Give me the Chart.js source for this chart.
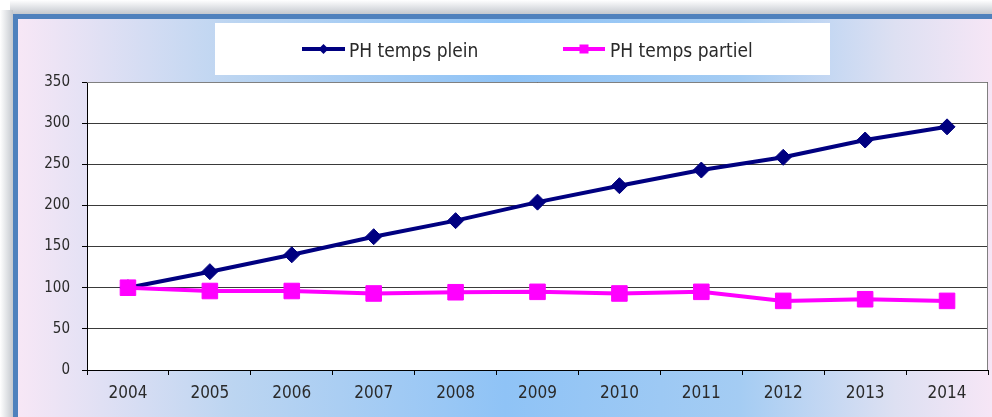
<!DOCTYPE html>
<html><head><meta charset="utf-8">
<script src="https://cdn.jsdelivr.net/npm/chart.js@4.4.0/dist/chart.umd.min.js"></script>
<style>html,body{margin:0;padding:0;background:#fff;overflow:hidden}#wrap{width:992px;height:417px;position:relative}</style>
</head><body><div id="wrap"><canvas id="c" width="992" height="417"></canvas></div>
<script>
const years = ['2004','2005','2006','2007','2008','2009','2010','2011','2012','2013','2014'];
const pleinValues = [100, 119.5, 140, 162, 181.5, 204, 224, 243, 258.5, 279.5, 295.5];
const partielValues = [100, 96, 96, 93, 94.5, 95, 93, 95, 84, 86, 84];
const seriesNames = ['PH temps plein', 'PH temps partiel'];
const yMin = 0, yMax = 350, yStep = 50;

const FONT = '"DejaVu Sans Condensed", "DejaVu Sans", sans-serif';

const bgPlugin = {
  id: 'bg',
  beforeDraw(chart) {
    const ctx = chart.ctx, W = chart.width, H = chart.height;
    ctx.save();
    ctx.fillStyle = '#ffffff';
    ctx.fillRect(0, 0, W, H);
    let sh = ctx.createLinearGradient(0, 0, 0, 14);
    sh.addColorStop(0, '#ffffff'); sh.addColorStop(1, '#c4c8ce');
    ctx.fillStyle = sh; ctx.fillRect(10, 0, W - 10, 14);
    sh = ctx.createLinearGradient(0, 0, 13, 0);
    sh.addColorStop(0, '#ffffff'); sh.addColorStop(1, '#c4c8ce');
    ctx.fillStyle = sh; ctx.fillRect(0, 10, 13, H - 10);
    ctx.fillStyle = '#4f81bd';
    ctx.fillRect(13, 14, W - 13, 5);
    ctx.fillRect(13, 14, 5, H - 14);
    const g = ctx.createLinearGradient(18, 0, W, 0);
    g.addColorStop(0, '#f7e7f6');
    g.addColorStop(0.22, '#bcd5f1');
    g.addColorStop(0.5, '#8fc3f6');
    g.addColorStop(0.74, '#a4ccf3');
    g.addColorStop(0.9, '#dde0f2');
    g.addColorStop(1, '#f6e6f6');
    ctx.fillStyle = g;
    ctx.fillRect(18, 19, W - 18, H - 19);
    ctx.fillStyle = '#ffffff';
    ctx.fillRect(215, 23, 615, 52);
    const a = chart.chartArea;
    ctx.fillRect(a.left, a.top, a.right - a.left, a.bottom - a.top);
    ctx.restore();
  },
  beforeDatasetsDraw(chart) {
    const ctx = chart.ctx, a = chart.chartArea;
    ctx.save();
    ctx.strokeStyle = '#808080';
    ctx.lineWidth = 1;
    ctx.beginPath();
    ctx.moveTo(a.left, a.top + 0.5); ctx.lineTo(a.right - 0.5, a.top + 0.5); ctx.lineTo(a.right - 0.5, a.bottom);
    ctx.stroke();
    ctx.restore();
  },
  afterDraw(chart) {
    const ctx = chart.ctx;
    ctx.save();
    const items = [{x0: 302, x1: 345, tx: 349}, {x0: 563, x1: 605, tx: 610}];
    chart.data.datasets.forEach((ds, i) => {
      const it = items[i];
      const y = 49;
      ctx.strokeStyle = ds.borderColor;
      ctx.lineWidth = 4;
      ctx.beginPath(); ctx.moveTo(it.x0, y); ctx.lineTo(it.x1, y); ctx.stroke();
      const cx = (it.x0 + it.x1) / 2;
      ctx.fillStyle = ds.backgroundColor;
      ctx.beginPath();
      if (ds.pointStyle === 'rectRot') {
        ctx.moveTo(cx, y - 5); ctx.lineTo(cx + 5, y); ctx.lineTo(cx, y + 5); ctx.lineTo(cx - 5, y);
        ctx.closePath(); ctx.fill();
      } else {
        ctx.fillRect(cx - 4.5, y - 4.5, 9, 9);
      }
      ctx.fillStyle = '#2a2a2a';
      ctx.font = '19px ' + FONT;
      ctx.textBaseline = 'alphabetic';
      ctx.textAlign = 'left';
      ctx.fillText(ds.label, it.tx, 57);
    });
    ctx.restore();
  }
};

new Chart(document.getElementById('c'), {
  type: 'line',
  data: {
    labels: years,
    datasets: [
      {label: seriesNames[0], data: pleinValues, borderColor: '#000080', backgroundColor: '#000080', order: 1,
       borderWidth: 4, pointStyle: 'rectRot', pointRadius: 8, pointBorderWidth: 1, pointHoverRadius: 8, tension: 0},
      {label: seriesNames[1], data: partielValues, borderColor: '#ff00ff', backgroundColor: '#ff00ff', order: 0,
       borderWidth: 4, pointStyle: 'rect', pointRadius: 11, pointBorderWidth: 1, pointHoverRadius: 11, tension: 0}
    ]
  },
  options: {
    responsive: false, animation: false, events: [],
    layout: {autoPadding: false, padding: {top: 82, right: 4, left: 0, bottom: 0}},
    plugins: {legend: {display: false}, tooltip: {enabled: false}},
    scales: {
      x: {
        offset: true,
        grid: {offset: true, drawOnChartArea: false, tickLength: 5, tickColor: '#000'},
        border: {color: '#000', width: 1},
        ticks: {font: {family: FONT, size: 17}, color: '#2a2a2a', padding: 8, maxRotation: 0},
        afterFit(s) { s.height = 47; }
      },
      y: {
        min: yMin, max: yMax,
        ticks: {stepSize: yStep, font: {family: FONT, size: 15}, color: '#2a2a2a', padding: 12},
        grid: {color: '#3a3a3a', tickLength: 5, tickColor: '#000'},
        border: {color: '#000', width: 1},
        afterFit(s) { s.width = 87; }
      }
    }
  },
  plugins: [bgPlugin]
});
</script></body></html>
